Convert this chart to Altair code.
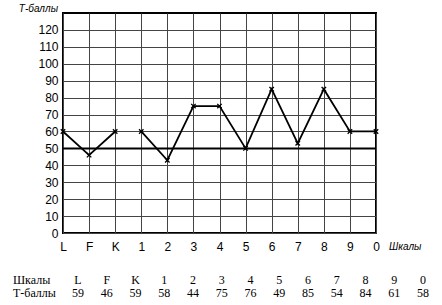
import altair as alt
import pandas as pd

scales = ["L", "F", "K", "1", "2", "3", "4", "5", "6", "7", "8", "9", "0"]
plot_values = [60, 46, 60, 60, 43, 75, 75, 50, 85, 53, 85, 60, 60]
groups = ["A", "A", "A"] + ["B"] * 10
table_labels = ["L", "F", "K", "1", "2", "3", "4", "5", "6", "7", "8", "9", "0"]
table_values = [59, 46, 59, 58, 44, 75, 76, 49, 85, 54, 84, 61, 58]
y_ticks = list(range(0, 130, 10))

df = pd.DataFrame({"scale": scales, "t": plot_values, "grp": groups})
tdf = pd.DataFrame({"idx": list(range(len(table_labels))), "label": table_labels,
                    "value": [str(v) for v in table_values]})

xenc = alt.X("scale:O", sort=scales, scale=alt.Scale(type="point", padding=0),
             axis=alt.Axis(title=None, labelAngle=0, ticks=False, domain=False, grid=True,
                           gridColor="#444", gridWidth=1, labelFont="Liberation Sans",
                           labelFontSize=12, labelColor="black", labelPadding=8))
yenc = alt.Y("t:Q", scale=alt.Scale(domain=[0, 130], nice=False),
             axis=alt.Axis(title=None, values=y_ticks, ticks=False, domain=False, grid=True,
                           gridColor="#444", gridWidth=1, labelFont="Liberation Sans",
                           labelFontSize=12, labelColor="black", labelPadding=5))

line = alt.Chart(df).mark_line(color="black", strokeWidth=1.8).encode(x=xenc, y=yenc, detail="grp:N")
pts = alt.Chart(df).mark_point(shape="M-1,-1L1,1M-1,1L1,-1", size=20, filled=False,
                               color="black", strokeWidth=1.3, opacity=1).encode(x=xenc, y=yenc)
rule50 = alt.Chart(pd.DataFrame({"t": [50]})).mark_rule(color="black", strokeWidth=2).encode(y=yenc)

main = alt.layer(line, rule50, pts)

tx = alt.X("idx:Q", scale=alt.Scale(domain=[0, 12], range=[15, 360]), axis=None)
row1 = alt.Chart(tdf).mark_text(font="Liberation Serif", fontSize=12, color="black").encode(
    x=tx, y=alt.value(267), text="label:N")
row2 = alt.Chart(tdf).mark_text(font="Liberation Serif", fontSize=12, color="black").encode(
    x=tx, y=alt.value(280), text="value:N")

hdr1 = alt.Chart(pd.DataFrame({"h": ["Шкалы"]})).mark_text(
    font="Liberation Serif", fontSize=12, align="left", color="black").encode(
    x=alt.value(-50), y=alt.value(267), text="h:N")
hdr2 = alt.Chart(pd.DataFrame({"h": ["Т-баллы"]})).mark_text(
    font="Liberation Serif", fontSize=12, align="left", color="black").encode(
    x=alt.value(-50), y=alt.value(280), text="h:N")

ytitle = alt.Chart(pd.DataFrame({"s": ["Т-баллы"]})).mark_text(
    font="Liberation Sans", fontSize=10, fontStyle="italic", align="right", color="black").encode(
    x=alt.value(-5), y=alt.value(-4), text="s:N")
xtitle = alt.Chart(pd.DataFrame({"s": ["Шкалы"]})).mark_text(
    font="Liberation Sans", fontSize=10, fontStyle="italic", align="left", color="black").encode(
    x=alt.value(326), y=alt.value(234), text="s:N")

chart = alt.layer(main, row1, row2, hdr1, hdr2, ytitle, xtitle).resolve_scale(
    x="independent"
).properties(
    width=313, height=220, autosize=alt.AutoSizeParams(type="none"),
    padding={"left": 63, "top": 13, "right": 66, "bottom": 72}, background="white"
).configure_view(stroke="black", strokeWidth=2)

chart.save("out.html", embed_options={"renderer": "svg", "actions": False})
